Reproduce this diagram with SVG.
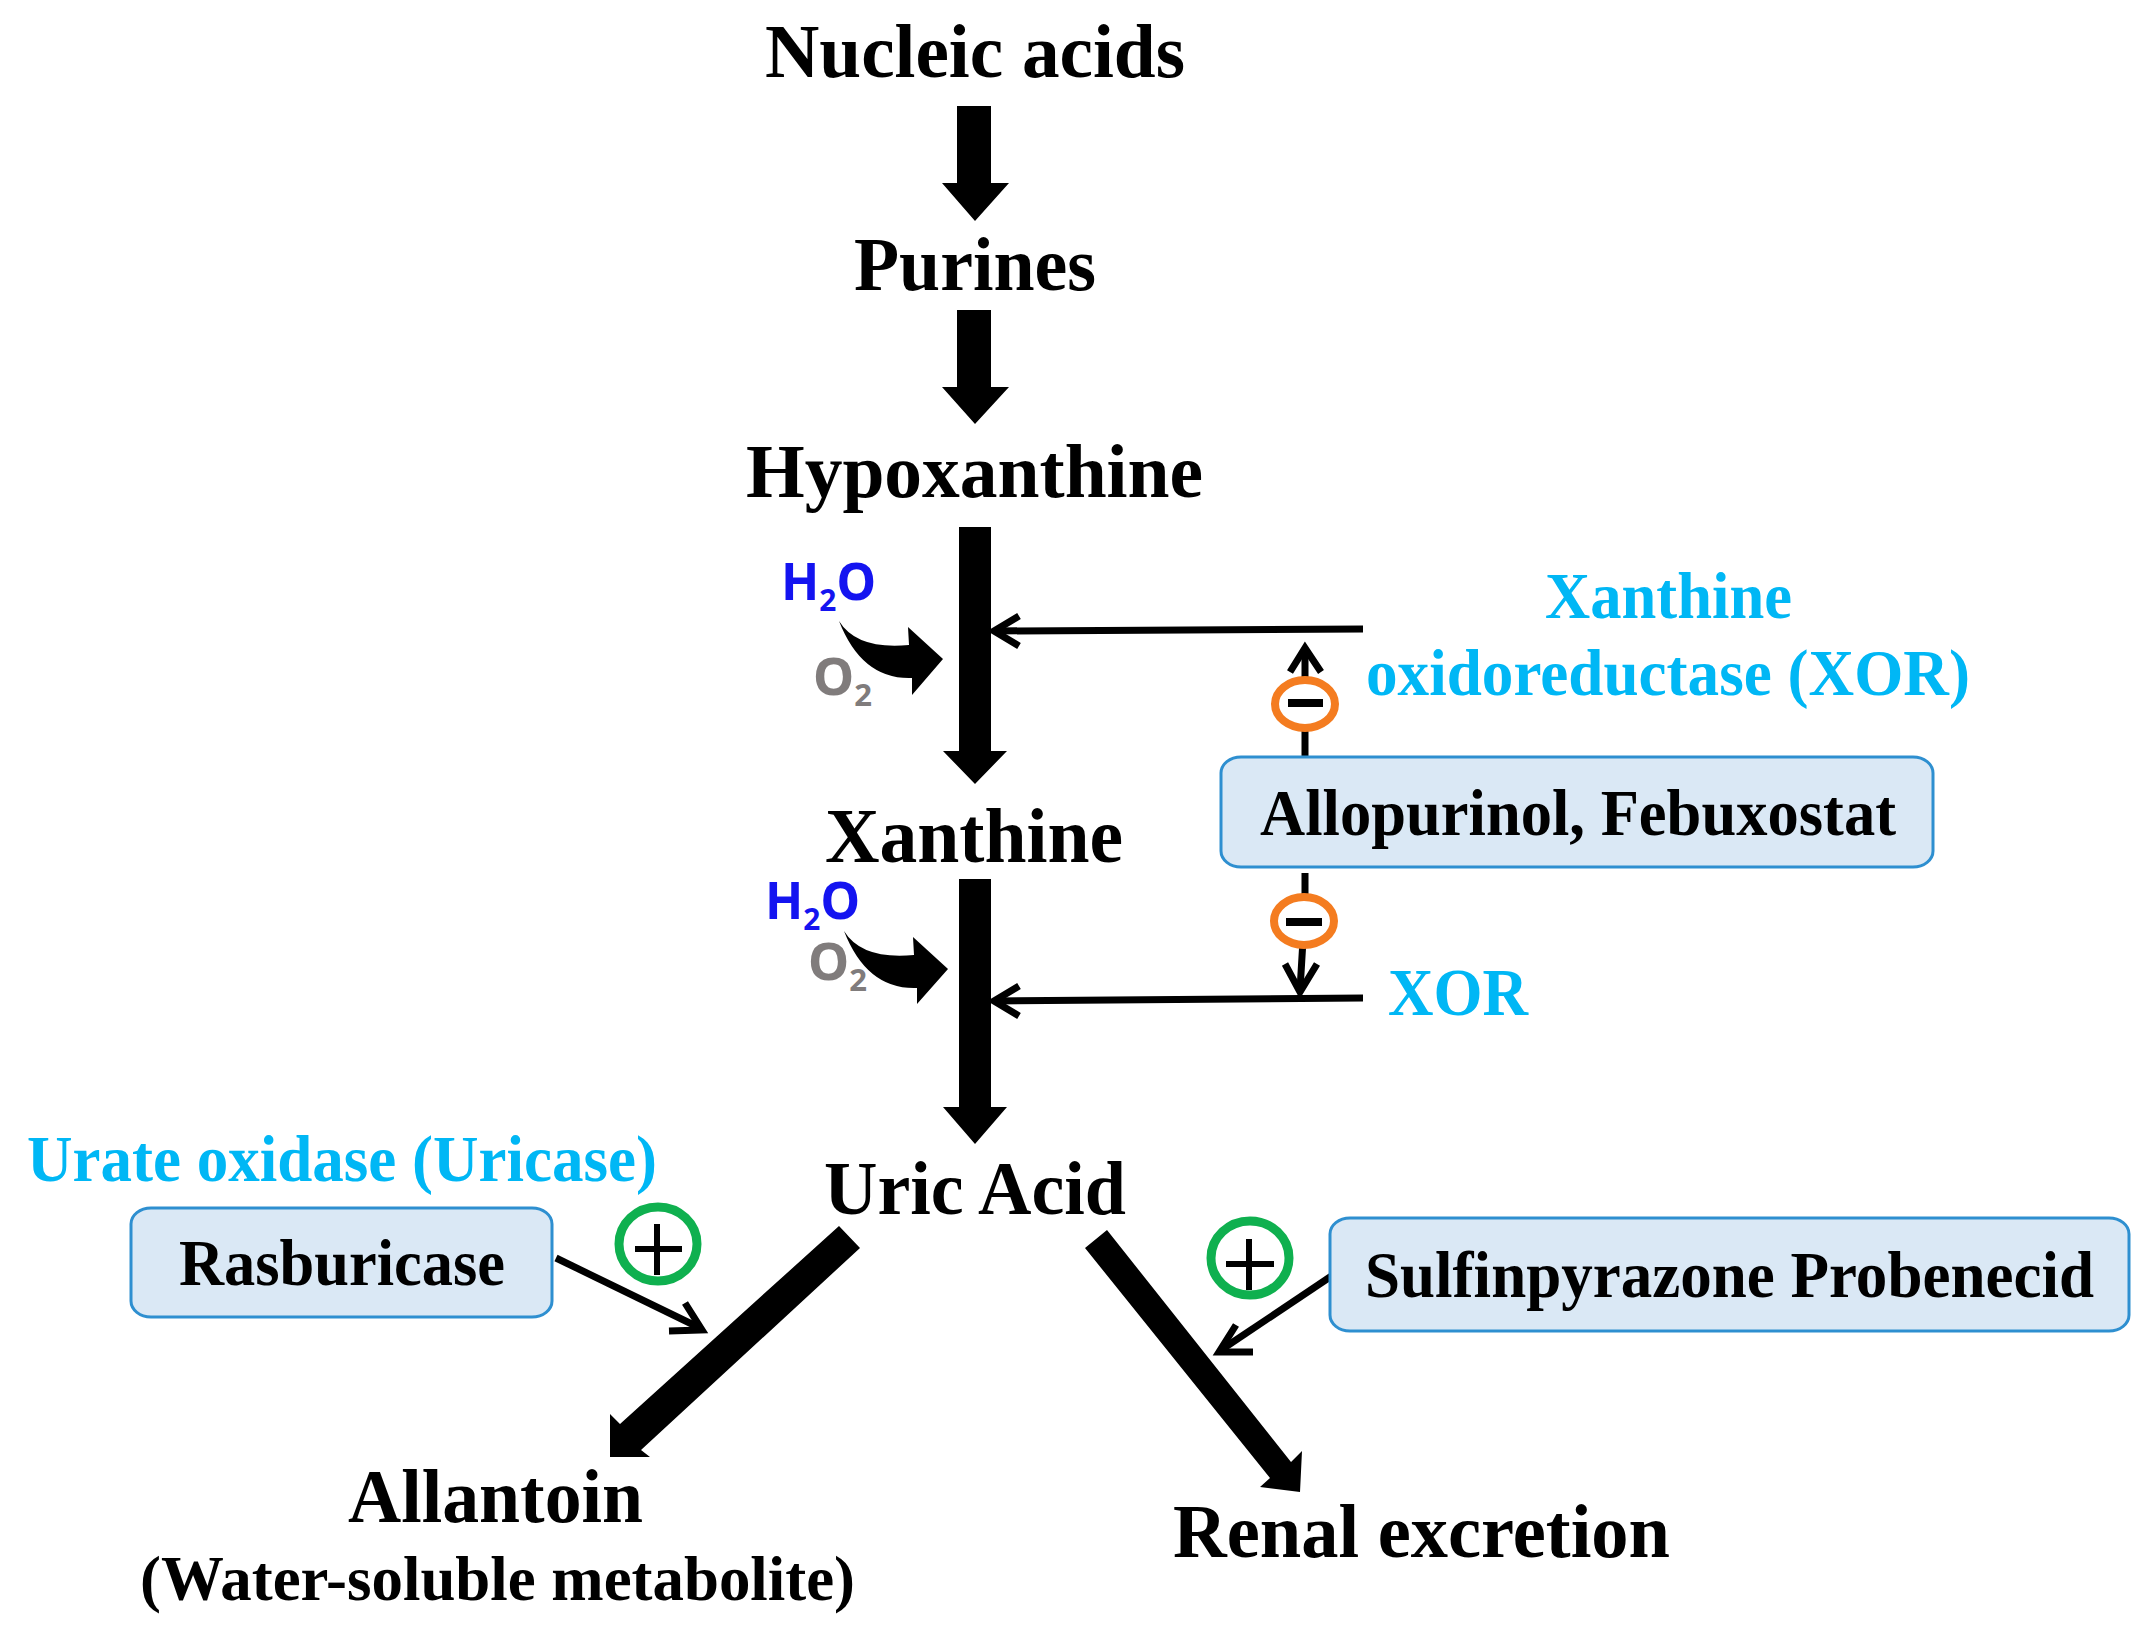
<svg xmlns="http://www.w3.org/2000/svg" width="2153" height="1647" viewBox="0 0 2153 1647">
<style>
text{font-family:"Liberation Serif","Times New Roman",serif;font-weight:bold;fill:#000}
.c{fill:#00b7f5}
.f{font-family:"Noto Sans","Open Sans",sans-serif;font-weight:700}
.h{fill:#1414f0;font-size:52px}
.o{fill:#807c7c;font-size:52px}
.box{fill:#dae8f5;stroke:#2e8fd0;stroke-width:3}
.thin{fill:none;stroke:#000;stroke-width:7}
.head{fill:none;stroke:#000;stroke-width:7;stroke-linejoin:miter}
.min{fill:#fff;stroke:#f47c20;stroke-width:8}
.plus{fill:#fff;stroke:#0fb04f;stroke-width:9}
.sym{stroke:#000;fill:none}
</style>
<rect width="2153" height="1647" fill="#fff"/>
<g id="connectors">
<polygon points="957,106 991,106 991,183 1009,183 975,221 942,183 957,183"/>
<polygon points="957,310 991,310 991,387 1009,387 975,424 942,387 957,387"/>
<polygon points="959,527 991,527 991,751 1007,751 975,784 943,751 959,751"/>
<polygon points="959,879 991,879 991,1107 1007,1107 975,1144 943,1107 959,1107"/>
<path d="M839 621Q857 650 909 645L908 627L943 659L912 695L912 678Q862 680 839 621Z"/>
<path d="M844 931Q862 960 914 955L913 937L948 969L917 1004L917 988Q867 990 844 931Z"/>
<polygon points="839,1226 860,1248 641,1450 650,1457 610,1457 610,1414 620,1424"/>
<polygon points="1107,1230 1291,1462 1302,1451 1300,1492 1260,1487 1270,1478 1085,1248"/>
<path class="thin" d="M1363 629L994 631"/>
<path class="head" d="M1019 616L994 631L1019 646"/>
<path class="thin" d="M1363 998L994 1001"/>
<path class="head" d="M1019 986L994 1001L1019 1016"/>
<path class="thin" d="M1305 756V648"/>
<path class="head" d="M1290 672L1305 648L1321 672"/>
<path class="thin" d="M1305 873V925M1303 940L1300 990"/>
<path class="head" d="M1285 964L1300 992L1317 964"/>
<path class="thin" d="M556 1258L700 1328"/>
<path class="head" d="M685 1303L702 1330L669 1331"/>
<path class="thin" d="M1333 1275L1221 1350"/>
<path class="head" d="M1236 1325L1219 1352L1253 1352"/>
</g>
<g id="nucleic-acids"><text x="765" y="77" font-size="76" textLength="420" lengthAdjust="spacingAndGlyphs">Nucleic acids</text></g>
<g id="purines"><text x="854" y="290" font-size="76" textLength="242" lengthAdjust="spacingAndGlyphs">Purines</text></g>
<g id="hypoxanthine"><text x="746" y="497" font-size="76" textLength="457" lengthAdjust="spacingAndGlyphs">Hypoxanthine</text></g>
<g id="xanthine"><text x="825" y="862" font-size="78" textLength="298" lengthAdjust="spacingAndGlyphs">Xanthine</text></g>
<g id="uric-acid"><text x="824" y="1214" font-size="76" textLength="302" lengthAdjust="spacingAndGlyphs">Uric Acid</text></g>
<g id="allantoin"><text x="348" y="1522" font-size="76" textLength="295" lengthAdjust="spacingAndGlyphs">Allantoin</text><text x="140" y="1600" font-size="64" textLength="715" lengthAdjust="spacingAndGlyphs">(Water-soluble metabolite)</text></g>
<g id="renal-excretion"><text x="1173" y="1557" font-size="76" textLength="497" lengthAdjust="spacingAndGlyphs">Renal excretion</text></g>
<g id="h2o-1"><text class="f h" x="781" y="600" textLength="95" lengthAdjust="spacingAndGlyphs">H<tspan font-size="31" dy="11">2</tspan><tspan dy="-11">O</tspan></text></g>
<g id="o2-1"><text class="f o" x="813" y="695" textLength="59" lengthAdjust="spacingAndGlyphs">O<tspan font-size="31" dy="11">2</tspan></text></g>
<g id="h2o-2"><text class="f h" x="765" y="919" textLength="95" lengthAdjust="spacingAndGlyphs">H<tspan font-size="31" dy="11">2</tspan><tspan dy="-11">O</tspan></text></g>
<g id="o2-2"><text class="f o" x="808" y="980" textLength="59" lengthAdjust="spacingAndGlyphs">O<tspan font-size="31" dy="11">2</tspan></text></g>
<g id="xor-1"><text class="c" x="1545" y="618" font-size="66" textLength="247" lengthAdjust="spacingAndGlyphs">Xanthine</text><text class="c" x="1366" y="695" font-size="66" textLength="604" lengthAdjust="spacingAndGlyphs">oxidoreductase (XOR)</text></g>
<g id="xor-2"><text class="c" x="1388" y="1015" font-size="68" textLength="140" lengthAdjust="spacingAndGlyphs">XOR</text></g>
<g id="uricase"><text class="c" x="27" y="1181" font-size="66" textLength="630" lengthAdjust="spacingAndGlyphs">Urate oxidase (Uricase)</text></g>
<g id="allopurinol"><rect class="box" x="1221" y="757" width="712" height="110" rx="20" ry="16"/><text x="1260" y="835" font-size="66" textLength="636" lengthAdjust="spacingAndGlyphs">Allopurinol, Febuxostat</text></g>
<g id="rasburicase"><rect class="box" x="131" y="1208" width="421" height="109" rx="20" ry="16"/><text x="179" y="1285" font-size="66" textLength="326" lengthAdjust="spacingAndGlyphs">Rasburicase</text></g>
<g id="sulfinpyrazone"><rect class="box" x="1330" y="1218" width="799" height="113" rx="20" ry="16"/><text x="1365" y="1297" font-size="66" textLength="729" lengthAdjust="spacingAndGlyphs">Sulfinpyrazone Probenecid</text></g>
<g id="inhibit-1"><ellipse class="min" cx="1305" cy="704" rx="30" ry="24"/><path class="sym" stroke-width="8" d="M1288 703H1323"/></g>
<g id="inhibit-2"><ellipse class="min" cx="1304" cy="921" rx="30" ry="24"/><path class="sym" stroke-width="8" d="M1286 922H1322"/></g>
<g id="activate-1"><ellipse class="plus" cx="658" cy="1244" rx="39" ry="37"/><path class="sym" stroke-width="6" d="M635 1249H682M657 1224V1275"/></g>
<g id="activate-2"><ellipse class="plus" cx="1250" cy="1258" rx="39" ry="37"/><path class="sym" stroke-width="6" d="M1226 1264H1274M1249 1239V1290"/></g>
</svg>
